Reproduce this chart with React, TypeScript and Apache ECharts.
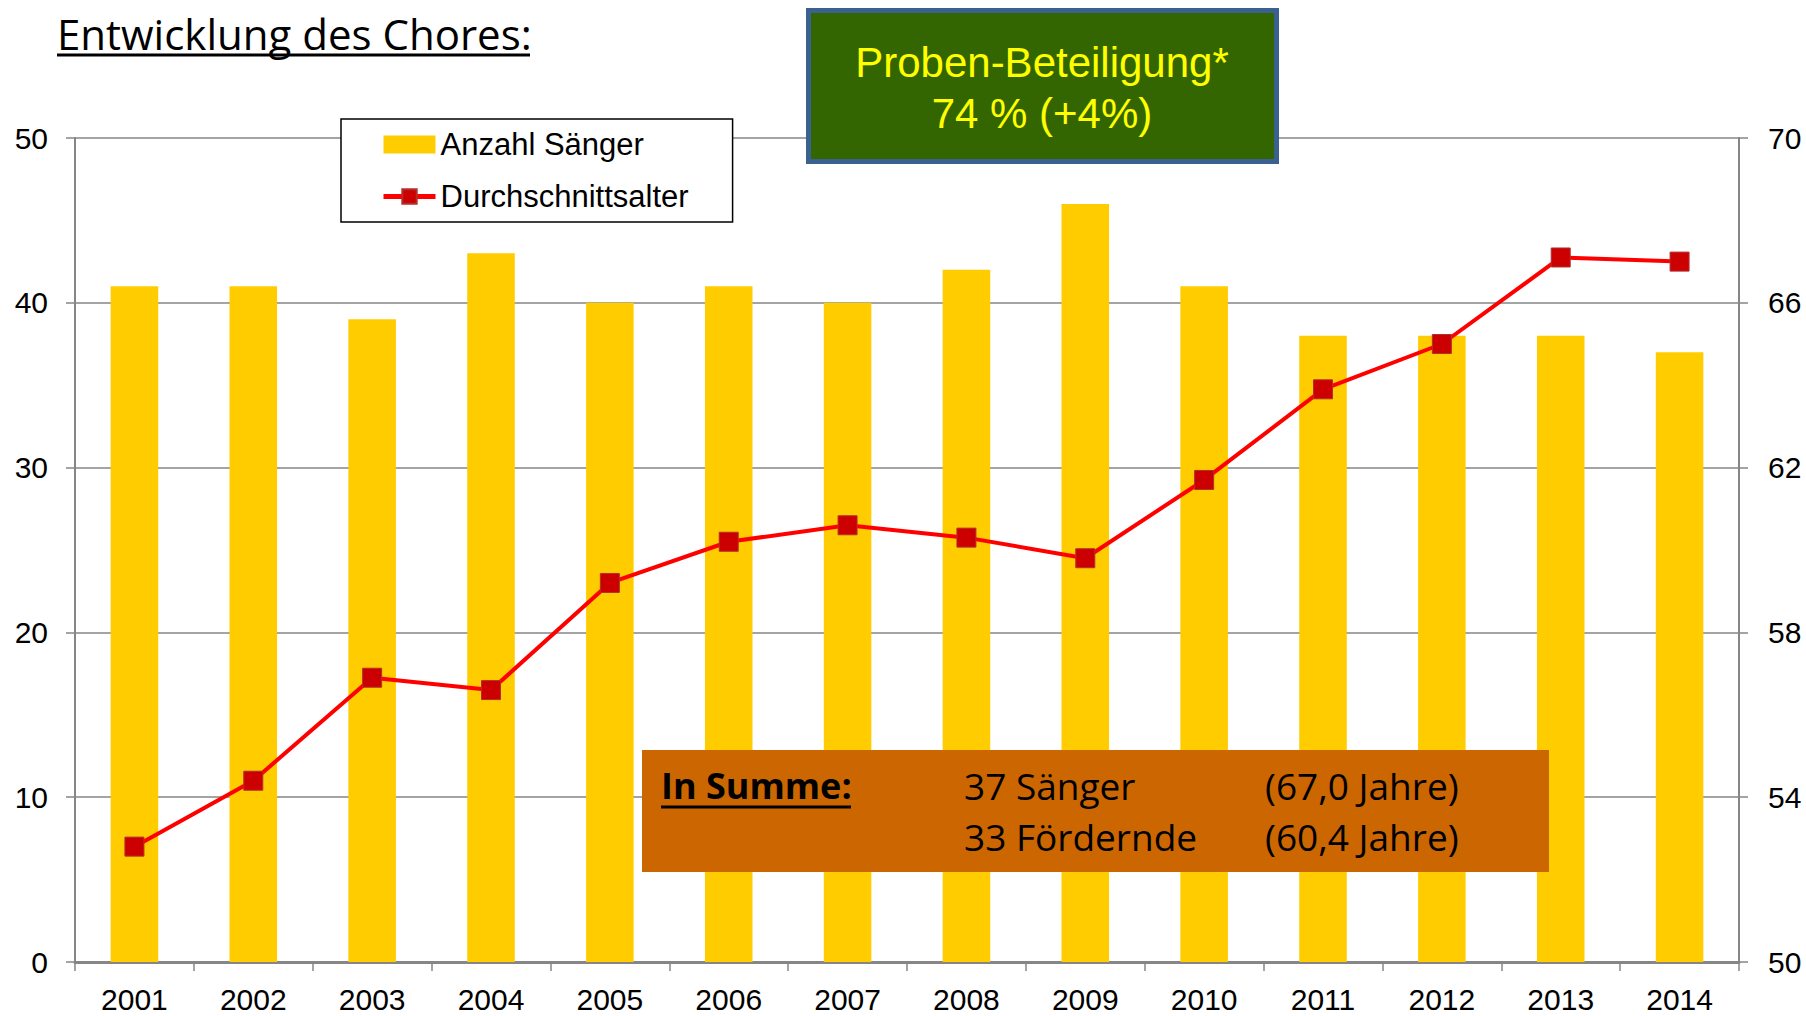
import React, { useEffect, useRef } from "react";
import * as echarts from "echarts";

const years = ["2001", "2002", "2003", "2004", "2005", "2006", "2007", "2008", "2009", "2010", "2011", "2012", "2013", "2014"];
const saenger = [41, 41, 39, 43, 40, 41, 40, 42, 46, 41, 38, 38, 38, 37];
const alter = [52.8, 54.4, 56.9, 56.6, 59.2, 60.2, 60.6, 60.3, 59.8, 61.7, 63.9, 65.0, 67.1, 67.0];

const titleText = "Entwicklung des Chores:";
const greenLines = ["Proben-Beteiligung*", "74 % (+4%)"];
const summeLabel = "In Summe:";
const summeRows = [
  ["37 Sänger", "(67,0 Jahre)"],
  ["33 Fördernde", "(60,4 Jahre)"],
];

const AX = "#868686";
const ARIAL = "'Liberation Sans', Arial, sans-serif";
const CAL = "'Open Sans', sans-serif";

export default function App() {
  const ref = useRef<HTMLDivElement>(null);
  useEffect(() => {
    document.body.style.margin = "0";
    const chart = echarts.init(ref.current!, undefined, { renderer: "svg" });
    const graphics: any[] = [
      {
        type: "text",
        z: 100,
        x: 57,
        y: 33,
        style: { text: titleText, font: `42px ${CAL}`, fill: "#000", align: "left", verticalAlign: "middle" },
      },
      {
        type: "line",
        z: 100,
        shape: { x1: 57, y1: 55, x2: 530, y2: 55 },
        style: { stroke: "#000", lineWidth: 3 },
      },
      {
        type: "rect",
        z: 100,
        shape: { x: 808.5, y: 10.5, width: 468, height: 151 },
        style: { fill: "#336600", stroke: "#3b6190", lineWidth: 5 },
      },
      {
        type: "text",
        z: 101,
        x: 1042,
        y: 62,
        style: { text: greenLines[0], font: `42px ${ARIAL}`, fill: "#ffff00", align: "center", verticalAlign: "middle" },
      },
      {
        type: "text",
        z: 101,
        x: 1042,
        y: 113,
        style: { text: greenLines[1], font: `42px ${ARIAL}`, fill: "#ffff00", align: "center", verticalAlign: "middle" },
      },
      {
        type: "rect",
        z: 100,
        shape: { x: 642, y: 750, width: 907, height: 122 },
        style: { fill: "#cc6600" },
      },
      {
        type: "text",
        z: 101,
        x: 661,
        y: 785,
        style: { text: summeLabel, font: `bold 36px ${CAL}`, fill: "#000", align: "left", verticalAlign: "middle" },
      },
      {
        type: "line",
        z: 101,
        shape: { x1: 661, y1: 807, x2: 851, y2: 807 },
        style: { stroke: "#000", lineWidth: 3 },
      },
    ];
    summeRows.forEach((row, i) => {
      const y = 785 + i * 51;
      graphics.push({
        type: "text",
        z: 101,
        x: 964,
        y,
        style: { text: row[0], font: `37px ${CAL}`, fill: "#000", align: "left", verticalAlign: "middle" },
      });
      graphics.push({
        type: "text",
        z: 101,
        x: 1265,
        y,
        style: { text: row[1], font: `37px ${CAL}`, fill: "#000", align: "left", verticalAlign: "middle" },
      });
    });

    chart.setOption({
      animation: false,
      backgroundColor: "#ffffff",
      grid: { left: 75, right: 67, top: 138, bottom: 54 },
      legend: {
        left: 341,
        top: 119,
        orient: "vertical",
        backgroundColor: "#ffffff",
        borderColor: "#000000",
        borderWidth: 1.5,
        padding: [10, 44, 10, 40],
        itemGap: 21,
        itemWidth: 52,
        itemHeight: 18,
        z: 50,
        textStyle: { fontFamily: ARIAL, fontSize: 31, color: "#000" },
        data: [
          { name: "Anzahl Sänger", icon: "rect" },
          {
            name: "Durchschnittsalter",
            lineStyle: { width: 5, color: "#ff0000" },
          },
        ],
      },
      xAxis: {
        type: "category",
        data: years,
        boundaryGap: true,
        axisLine: { lineStyle: { color: AX, width: 3 } },
        axisTick: { show: true, length: 9, lineStyle: { color: AX, width: 1.5 } },
        axisLabel: { fontFamily: ARIAL, fontSize: 30, color: "#000", margin: 22 },
      },
      yAxis: [
        {
          type: "value",
          min: 0,
          max: 50,
          interval: 10,
          position: "left",
          axisLine: { show: true, lineStyle: { color: AX, width: 2 } },
          axisTick: { show: true, length: 9, lineStyle: { color: AX, width: 1.5 } },
          splitLine: { show: true, lineStyle: { color: AX, width: 1.5 } },
          axisLabel: { fontFamily: ARIAL, fontSize: 30, color: "#000", margin: 27 },
        },
        {
          type: "value",
          min: 50,
          max: 70,
          interval: 4,
          position: "right",
          axisLine: { show: true, lineStyle: { color: AX, width: 2 } },
          axisTick: { show: true, length: 9, lineStyle: { color: AX, width: 1.5 } },
          splitLine: { show: false },
          axisLabel: { fontFamily: ARIAL, fontSize: 30, color: "#000", margin: 29 },
        },
      ],
      series: [
        {
          name: "Anzahl Sänger",
          type: "bar",
          yAxisIndex: 0,
          data: saenger,
          barWidth: "40%",
          itemStyle: { color: "#ffcc00" },
        },
        {
          name: "Durchschnittsalter",
          type: "line",
          yAxisIndex: 1,
          data: alter,
          symbol: "rect",
          symbolSize: 19,
          lineStyle: { color: "#ff0000", width: 4 },
          itemStyle: { color: "#cc0000", borderColor: "#b03030", borderWidth: 1 },
          z: 5,
        },
      ],
      graphic: graphics,
    });
    return () => chart.dispose();
  }, []);
  return <div ref={ref} style={{ width: 1806, height: 1016 }} />;
}
